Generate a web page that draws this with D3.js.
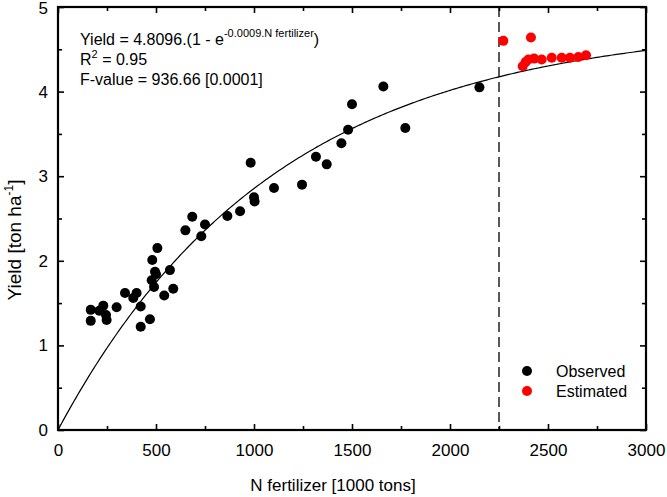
<!DOCTYPE html>
<html>
<head>
<meta charset="utf-8">
<script src="https://cdn.jsdelivr.net/npm/d3@7"></script>
<style>
  html, body { margin: 0; padding: 0; background: #fff; }
  svg { display: block; font-family: "Liberation Sans", Arial, sans-serif; }
</style>
</head>
<body>
<svg id="chart" width="667" height="497"></svg>
<script>
// ---- data ----
const observedX = [167,167,211,231,245,248,299,342,384,401,422,422,469,478,481,490,495,500,507,542,571,588,650,685,731,750,864,929,983,1000,1003,1102,1245,1316,1371,1446,1480,1500,1660,1772,2150];
const observedY = [1.42,1.29,1.41,1.47,1.36,1.30,1.45,1.62,1.56,1.62,1.46,1.22,1.31,1.77,2.01,1.69,1.87,1.84,2.15,1.59,1.89,1.67,2.36,2.52,2.29,2.43,2.53,2.585,3.16,2.75,2.70,2.86,2.90,3.23,3.14,3.39,3.55,3.85,4.06,3.57,4.05];
const estimatedX = [2272,2413,2371,2386,2400,2429,2468,2519,2570,2612,2655,2694];
const estimatedY = [4.60,4.64,4.30,4.35,4.38,4.39,4.38,4.40,4.40,4.40,4.41,4.43];
const fitA = 4.8096, fitB = 0.0009;
const cutoffX = 2250;
const xMajorTicks = [0,500,1000,1500,2000,2500,3000];
const xMinorTicks = [250,750,1250,1750,2250,2750];
const yMajorTicks = [0,1,2,3,4,5];
const yMinorTicks = [0.5,1.5,2.5,3.5,4.5];
const legendLabels = ["Observed","Estimated"];
const legendColors = ["#000000","#ff0000"];

// ---- layout ----
const svg = d3.select("#chart");
const L = 58, R = 646, T = 7, B = 430;
const x = d3.scaleLinear().domain([0,3000]).range([L,R]);
const y = d3.scaleLinear().domain([0,5]).range([B,T]);
const FONT = "Liberation Sans, Arial, sans-serif";

function styleAxis(g, labels) {
  g.select(".domain").remove();
  g.selectAll("line").attr("stroke","#000").attr("stroke-width",1.6);
  g.selectAll("text").attr("font-size",17).attr("fill","#000").attr("font-family",FONT);
  if (!labels) g.selectAll("text").remove();
}

// bottom
svg.append("g").attr("transform",`translate(0,${B})`)
  .call(d3.axisBottom(x).tickValues(xMajorTicks).tickFormat(d3.format("d")).tickSize(-6).tickPadding(14))
  .call(g=>styleAxis(g,true));
svg.append("g").attr("transform",`translate(0,${B})`)
  .call(d3.axisBottom(x).tickValues(xMinorTicks).tickSize(-4))
  .call(g=>styleAxis(g,false));
// top
svg.append("g").attr("transform",`translate(0,${T})`)
  .call(d3.axisTop(x).tickValues(xMajorTicks).tickSize(-6))
  .call(g=>styleAxis(g,false));
svg.append("g").attr("transform",`translate(0,${T})`)
  .call(d3.axisTop(x).tickValues(xMinorTicks).tickSize(-4))
  .call(g=>styleAxis(g,false));
// left
svg.append("g").attr("transform",`translate(${L},0)`)
  .call(d3.axisLeft(y).tickValues(yMajorTicks).tickFormat(d3.format("d")).tickSize(-6).tickPadding(10))
  .call(g=>styleAxis(g,true))
  .call(g=>g.selectAll(".tick text").filter(d=>d===5).attr("dy","0.38em"));
svg.append("g").attr("transform",`translate(${L},0)`)
  .call(d3.axisLeft(y).tickValues(yMinorTicks).tickSize(-4))
  .call(g=>styleAxis(g,false));
// right
svg.append("g").attr("transform",`translate(${R},0)`)
  .call(d3.axisRight(y).tickValues(yMajorTicks).tickSize(-6))
  .call(g=>styleAxis(g,false));
svg.append("g").attr("transform",`translate(${R},0)`)
  .call(d3.axisRight(y).tickValues(yMinorTicks).tickSize(-4))
  .call(g=>styleAxis(g,false));

// frame
svg.append("rect").attr("x",L).attr("y",T).attr("width",R-L).attr("height",B-T)
  .attr("fill","none").attr("stroke","#000").attr("stroke-width",2.2);

// dashed cutoff line
svg.append("line").attr("x1",x(cutoffX)).attr("x2",x(cutoffX)).attr("y1",T).attr("y2",B)
  .attr("stroke","#000").attr("stroke-width",1.3).attr("stroke-dasharray","10,5");

// fitted curve
const curveX = d3.range(0,3001,10);
svg.append("path")
  .datum(curveX)
  .attr("fill","none").attr("stroke","#000").attr("stroke-width",1.2)
  .attr("d", d3.line().x(d=>x(d)).y(d=>y(fitA*(1-Math.exp(-fitB*d)))));

// points
svg.append("g").selectAll("circle").data(d3.range(observedX.length)).join("circle")
  .attr("cx",i=>x(observedX[i])).attr("cy",i=>y(observedY[i])).attr("r",5)
  .attr("fill",legendColors[0]);
svg.append("g").selectAll("circle").data(d3.range(estimatedX.length)).join("circle")
  .attr("cx",i=>x(estimatedX[i])).attr("cy",i=>y(estimatedY[i])).attr("r",5)
  .attr("fill",legendColors[1]);

// annotation
const ann = svg.append("g").attr("font-family",FONT).attr("font-size",16).attr("fill","#000");
const t1 = ann.append("text").attr("x",80).attr("y",45);
t1.append("tspan").text("Yield = 4.8096.(1 - e");
t1.append("tspan").attr("font-size",11).attr("dy",-8).text("-0.0009.N fertilizer");
t1.append("tspan").attr("dy",8).text(")");
const t2 = ann.append("text").attr("x",80).attr("y",65);
t2.append("tspan").text("R");
t2.append("tspan").attr("font-size",11).attr("dy",-7).text("2");
t2.append("tspan").attr("dy",7).text(" = 0.95");
ann.append("text").attr("x",80).attr("y",85).text("F-value = 936.66 [0.0001]");

// legend
const leg = svg.append("g").attr("font-family",FONT).attr("font-size",16);
legendLabels.forEach((lab,i)=>{
  leg.append("circle").attr("cx",527).attr("cy",371+i*20).attr("r",5).attr("fill",legendColors[i]);
  leg.append("text").attr("x",556).attr("y",377+i*20).attr("fill","#000").text(lab);
});

// axis titles
svg.append("text").attr("x",333).attr("y",491).attr("text-anchor","middle")
  .attr("font-size",17).attr("font-family",FONT).text("N fertilizer [1000 tons]");
const yt = svg.append("text").attr("transform","translate(21,240) rotate(-90)")
  .attr("text-anchor","middle").attr("font-size",19).attr("font-family",FONT);
yt.append("tspan").text("Yield [ton ha");
yt.append("tspan").attr("font-size",12).attr("dy",-8).text("-1");
yt.append("tspan").attr("dy",8).text("]");
</script>
</body>
</html>
